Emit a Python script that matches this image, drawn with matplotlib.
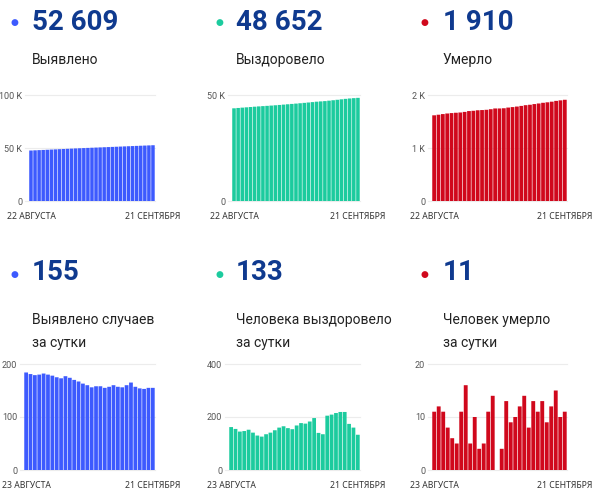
import matplotlib
matplotlib.use("Agg")
import matplotlib.pyplot as plt

plt.rcParams["font.family"] = ["Roboto", "DejaVu Sans"]

# cumulative totals, 22 Aug .. 21 Sep
total_cases = [47630, 47814, 47995, 48174, 48354, 48536, 48716, 48894, 49069, 49242,
               49419, 49593, 49763, 49930, 50093, 50253, 50409, 50567, 50725, 50880,
               51037, 51197, 51354, 51510, 51670, 51835, 51992, 52146, 52299, 52454, 52609]
total_recovered = [43723, 43885, 44040, 44185, 44332, 44484, 44625, 44755, 44881, 45016,
                   45157, 45307, 45467, 45632, 45790, 45944, 46112, 46289, 46464, 46647,
                   46843, 46983, 47118, 47323, 47532, 47747, 47966, 48185, 48359, 48519, 48652]
total_deaths = [1617, 1628, 1640, 1651, 1659, 1665, 1670, 1681, 1697, 1702,
                1712, 1716, 1721, 1732, 1746, 1746, 1750, 1763, 1772, 1782,
                1794, 1808, 1816, 1829, 1840, 1853, 1862, 1874, 1889, 1899, 1910]

# daily values, 23 Aug .. 21 Sep
daily_cases = [184, 181, 179, 180, 182, 180, 178, 175, 173, 177, 174, 170, 167, 163, 160,
               156, 158, 158, 155, 157, 160, 157, 156, 160, 165, 157, 154, 153, 155, 155]
daily_recovered = [162, 155, 145, 147, 152, 141, 130, 126, 135, 141, 150, 160, 165, 158, 154,
                   168, 177, 175, 183, 196, 140, 135, 205, 209, 215, 219, 219, 174, 160, 133]
daily_deaths = [11, 12, 11, 8, 6, 5, 11, 16, 5, 10, 4, 5, 11, 14, 0,
                4, 13, 9, 10, 12, 14, 8, 13, 11, 13, 9, 12, 15, 10, 11]

headlines = ["52 609", "48 652", "1 910", "155", "133", "11"]
captions = ["Выявлено", "Выздоровело", "Умерло",
            "Выявлено случаев\nза сутки", "Человека выздоровело\nза сутки",
            "Человек умерло\nза сутки"]
date_labels_top = ["22 АВГУСТА", "21 СЕНТЯБРЯ"]
date_labels_bottom = ["23 АВГУСТА", "21 СЕНТЯБРЯ"]

BLUE = "#3d5afe"
GREEN = "#1ccb9e"
RED = "#d0081c"
NAVY = "#0f3a8f"

W, H = 605, 499
fig = plt.figure(figsize=(W / 100, H / 100), dpi=100)
fig.patch.set_facecolor("white")

# (series, colour, x-left px, x-right px, y-bottom px, y-top px, ylim top, ticks, tick labels, dates)
panels = [
    (total_cases, BLUE, 25, 155, 201, 95, 100000, [0, 50000, 100000], ["0", "50 K", "100 K"], date_labels_top),
    (total_recovered, GREEN, 228, 360, 201, 95, 50000, [0, 50000], ["0", "50 K"], date_labels_top),
    (total_deaths, RED, 428, 567, 201, 95, 2000, [0, 1000, 2000], ["0", "1 K", "2 K"], date_labels_top),
    (daily_cases, BLUE, 20, 155, 470, 364, 200, [0, 100, 200], ["0", "100", "200"], date_labels_bottom),
    (daily_recovered, GREEN, 225, 360, 470, 364, 400, [0, 200, 400], ["0", "200", "400"], date_labels_bottom),
    (daily_deaths, RED, 428, 567, 470, 364, 20, [0, 10, 20], ["0", "10", "20"], date_labels_bottom),
]

for vals, color, xl, xr, yb, yt, top, ticks, tlabels, dates in panels:
    ax = fig.add_axes([xl / W, 1 - yb / H, (xr - xl) / W, (yb - yt) / H])
    n = len(vals)
    bars = ax.bar(range(n), vals, width=0.86, color=color, linewidth=0, zorder=2)
    for b in bars:
        b.set_snap(False)
    unit = (xr - xl) / (n + 0.5)
    ax.set_xlim(-0.5 - 4 / unit, n - 0.5)
    ax.set_ylim(0, top)
    ax.set_yticks(ticks)
    ax.set_yticklabels(tlabels)
    ax.set_xticks([])
    ax.tick_params(axis="y", length=0, pad=2, labelsize=6.5, labelcolor="#555555")
    ax.grid(True, axis="y", color="#ececec", linewidth=0.8, zorder=0)
    for s in ax.spines.values():
        s.set_visible(False)
    for gl in ax.get_ygridlines():
        gl.set_clip_on(False)
    # date labels under the first and the last bar
    for pos, lab in zip([0, n - 1], dates):
        ax.annotate(lab, xy=(pos, 0), xycoords=("data", "axes fraction"),
                    xytext=(0, -8), textcoords="offset points",
                    ha="center", va="top", fontsize=6.2, color="#333333",
                    family=["Noto Sans", "DejaVu Sans"], annotation_clip=False)

# headline numbers and captions
colors = [BLUE, GREEN, RED, BLUE, GREEN, RED]
dot_x = [14, 219, 424, 14, 219, 424]
text_x = [32, 236, 443, 32, 236, 443]
head_y = [22, 22, 22, 273, 273, 273]
cap_y = [53, 53, 53, 313, 313, 313]
for i in range(6):
    fig.text(dot_x[i] / W, 1 - (head_y[i] + 1) / H, "●", color=colors[i],
             fontsize=6.5, ha="center", va="center", family=["DejaVu Sans"])
    fig.text(text_x[i] / W, 1 - head_y[i] / H, headlines[i], color=NAVY,
             fontsize=20, fontweight="bold", ha="left", va="center")
    fig.text(text_x[i] / W, 1 - cap_y[i] / H, captions[i], color="#222222",
             fontsize=10, ha="left", va="top", linespacing=1.85)

fig.savefig("out.png", dpi=100, facecolor="white")
